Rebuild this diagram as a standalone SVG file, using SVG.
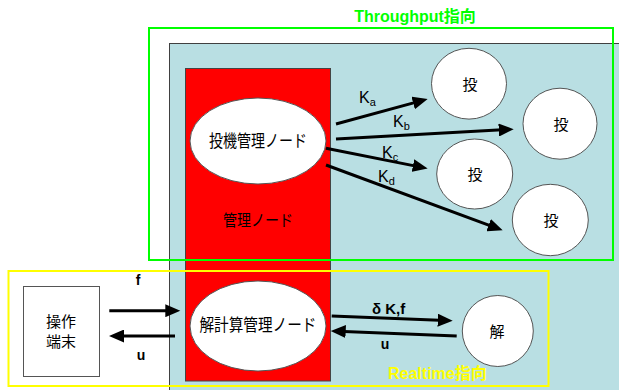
<svg xmlns="http://www.w3.org/2000/svg" width="619" height="390" viewBox="0 0 619 390">
<style>
.jp{font-family:"Noto Sans CJK JP","Liberation Sans",sans-serif;fill:#000}
.lab{font-family:"Liberation Sans",Arial,sans-serif;fill:#000}
.b{font-weight:bold}
.wnode{fill:#fff;stroke:#555;stroke-width:1}
.arr{stroke:#000;stroke-width:3;fill:none;marker-end:url(#ah)}
</style>
<defs>
<marker id="ah" markerUnits="userSpaceOnUse" markerWidth="16" markerHeight="13" refX="8" refY="6.5" orient="auto">
<path d="M0,0 L15,6.5 L0,13 z" fill="#000"/>
</marker>
</defs>
<rect width="619" height="390" fill="#fff"/>
<g id="area">
<rect x="169.5" y="43.5" width="460" height="360" fill="#b9dfe3" stroke="#404040" stroke-width="1"/>
</g>
<g id="kanri">
<rect x="185.5" y="68.5" width="145" height="312.5" fill="#ff0000" stroke="#444" stroke-width="1"/>
<text class="jp" x="258" y="226" font-size="16" text-anchor="middle" textLength="70" lengthAdjust="spacingAndGlyphs">管理ノード</text>
</g>
<g id="toki">
<ellipse cx="258" cy="141" rx="68" ry="43" class="wnode"/>
<text class="jp" x="258" y="147" font-size="17" text-anchor="middle" textLength="98" lengthAdjust="spacingAndGlyphs">投機管理ノード</text>
</g>
<g id="kaikeisan">
<ellipse cx="258" cy="326" rx="68" ry="45" class="wnode"/>
<text class="jp" x="258" y="331" font-size="17" text-anchor="middle" textLength="117" lengthAdjust="spacingAndGlyphs">解計算管理ノード</text>
</g>
<g id="to1"><ellipse cx="469" cy="83.7" rx="37.5" ry="35.4" class="wnode"/><text class="jp" x="470" y="90" font-size="15" text-anchor="middle">投</text></g>
<g id="to2"><ellipse cx="560" cy="123.7" rx="37" ry="35.5" class="wnode"/><text class="jp" x="561" y="130" font-size="15" text-anchor="middle">投</text></g>
<g id="to3"><ellipse cx="474.7" cy="174" rx="38" ry="35" class="wnode"/><text class="jp" x="475" y="180" font-size="15" text-anchor="middle">投</text></g>
<g id="to4"><ellipse cx="550.3" cy="220" rx="38" ry="35.7" class="wnode"/><text class="jp" x="551" y="226" font-size="15" text-anchor="middle">投</text></g>
<g id="kai"><ellipse cx="497.8" cy="331" rx="35.5" ry="35.5" class="wnode"/><text class="jp" x="497" y="337" font-size="15" text-anchor="middle">解</text></g>
<g id="sousa">
<rect x="23.5" y="286.5" width="76" height="90" fill="#fff" stroke="#555" stroke-width="1"/>
<text class="jp" x="61" y="327" font-size="15" text-anchor="middle">操作</text>
<text class="jp" x="61" y="347" font-size="15" text-anchor="middle">端末</text>
</g>
<g id="connectors">
<line class="arr" x1="336" y1="124" x2="420.9" y2="100.9"/>
<line class="arr" x1="336" y1="139" x2="506.7" y2="129.6"/>
<line class="arr" x1="326" y1="148.3" x2="420.8" y2="167.1"/>
<line class="arr" x1="326" y1="165" x2="496.1" y2="227.9"/>
<line class="arr" x1="109.3" y1="310.7" x2="173.3" y2="310.7"/>
<line class="arr" x1="175" y1="336" x2="116" y2="336"/>
<line class="arr" x1="331.7" y1="316" x2="445.7" y2="320.5"/>
<line class="arr" x1="456.7" y1="336" x2="337.7" y2="331.2"/>
<text class="lab" x="359" y="103" font-size="16">K<tspan font-size="11" dy="3">a</tspan></text>
<text class="lab" x="393" y="127" font-size="16">K<tspan font-size="11" dy="3">b</tspan></text>
<text class="lab" x="382" y="158" font-size="16">K<tspan font-size="11" dy="3">c</tspan></text>
<text class="lab" x="378" y="182" font-size="16">K<tspan font-size="11" dy="3">d</tspan></text>
<text class="lab b" x="138" y="285" font-size="14" text-anchor="middle">f</text>
<text class="lab b" x="141" y="360" font-size="14" text-anchor="middle">u</text>
<text class="lab b" x="372" y="314" font-size="15">δ K,f</text>
<text class="lab b" x="385" y="349" font-size="14" text-anchor="middle">u</text>
</g>
<g id="throughput">
<rect x="149" y="28" width="464" height="232" fill="none" stroke="#00ff00" stroke-width="2"/>
<text x="415" y="22" font-family="'Liberation Sans','Noto Sans CJK JP',sans-serif" font-weight="bold" font-size="16" fill="#00ff00" text-anchor="middle">Throughput指向</text>
</g>
<g id="realtime">
<rect x="8.5" y="271" width="540" height="115" fill="none" stroke="#ffff00" stroke-width="2"/>
<text x="388" y="379" font-family="'Liberation Sans','Noto Sans CJK JP',sans-serif" font-weight="bold" font-size="16" fill="#ffff00">Realtime指向</text>
</g>
</svg>
